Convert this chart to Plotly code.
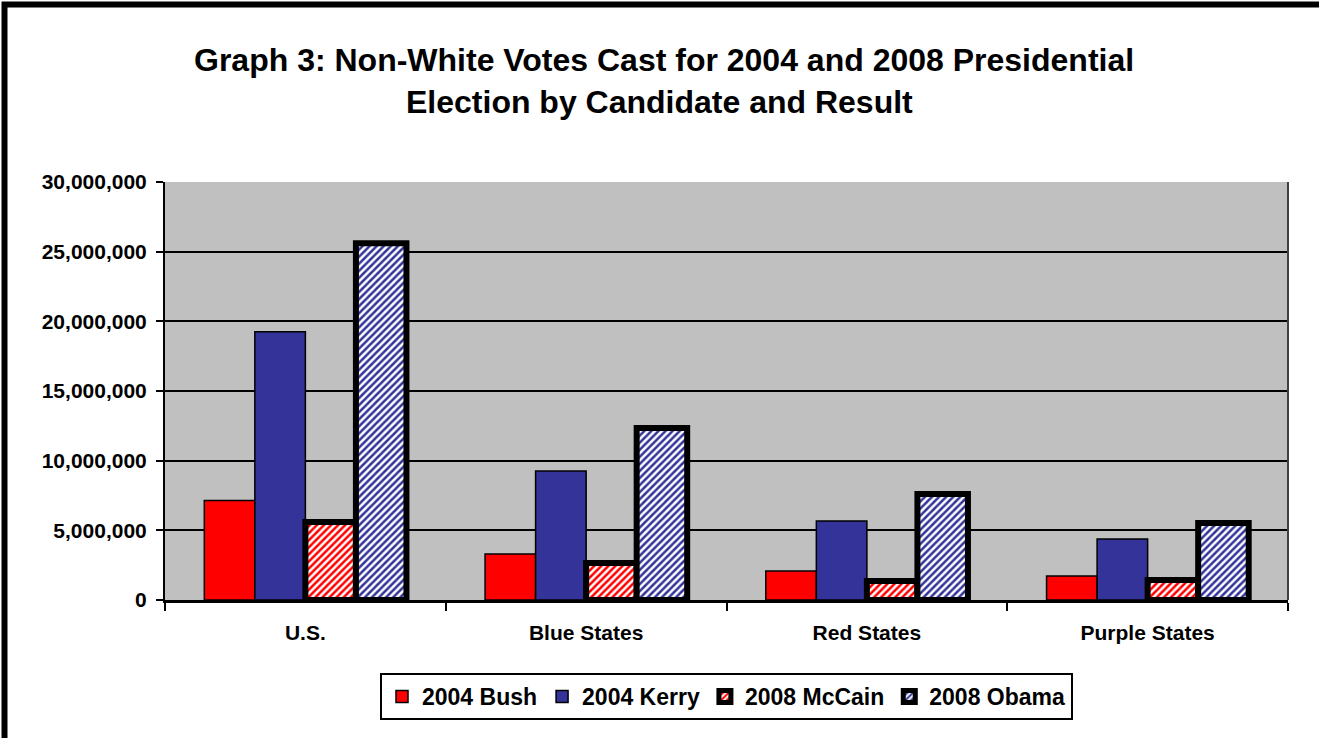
import plotly.graph_objects as go

categories = ["U.S.", "Blue States", "Red States", "Purple States"]
bush_2004 = [7150000, 3300000, 2080000, 1720000]
kerry_2004 = [19250000, 9250000, 5670000, 4380000]
mccain_2008 = [5600000, 2650000, 1370000, 1430000]
obama_2008 = [25600000, 12350000, 7600000, 5530000]

FONT = "Arial, Liberation Sans, sans-serif"
RED = "#FF0000"
BLUE = "#333399"

fig = go.Figure()
fig.add_bar(name="2004 Bush", x=categories, y=bush_2004,
            marker=dict(color=RED, line=dict(color="black", width=1.5)))
fig.add_bar(name="2004 Kerry", x=categories, y=kerry_2004,
            marker=dict(color=BLUE, line=dict(color="black", width=1.5)))
fig.add_bar(name="2008 McCain", x=categories, y=mccain_2008,
            marker=dict(color="white", line=dict(color="black", width=6),
                        pattern=dict(shape="/", fgcolor=RED, bgcolor="white",
                                     size=5, solidity=0.5, fillmode="replace")))
fig.add_bar(name="2008 Obama", x=categories, y=obama_2008,
            marker=dict(color="white", line=dict(color="black", width=6),
                        pattern=dict(shape="/", fgcolor=BLUE, bgcolor="white",
                                     size=5, solidity=0.5, fillmode="replace")))

L, R, T, B = 165, 31, 182, 138
W, H = 1319, 738
pw, ph = W - L - R, H - T - B

def px_x(x):
    return (x - L) / pw

def px_y(y):
    return (H - B - y) / ph

fig.update_layout(
    width=W, height=H,
    margin=dict(l=L, r=R, t=T, b=B, pad=0),
    paper_bgcolor="white",
    plot_bgcolor="#C0C0C0",
    barmode="group",
    bargap=0.28,
    bargroupgap=0,
    font=dict(family=FONT, color="black"),
    showlegend=True,
    legend=dict(orientation="h", x=0.5, xanchor="center",
                y=px_y(673), yanchor="top",
                font=dict(family=FONT, size=23, weight="bold", color="black"),
                bordercolor="black", borderwidth=2, bgcolor="white",
                itemwidth=30, traceorder="normal"),
    xaxis=dict(showgrid=False, showline=True, linecolor="black", linewidth=3,
               ticks="outside", tickson="boundaries", ticklen=8, tickwidth=2,
               tickcolor="black", ticklabelstandoff=12,
               tickfont=dict(family=FONT, size=21, weight="bold", color="black")),
    yaxis=dict(range=[0, 30000000], dtick=5000000, tickformat=",d",
               showgrid=True, gridcolor="black", gridwidth=2, zeroline=False,
               showline=True, linecolor="black", linewidth=2,
               ticks="outside", ticklen=7, tickwidth=2, tickcolor="black",
               ticklabelstandoff=5,
               tickfont=dict(family=FONT, size=21, weight="bold", color="black")),
    annotations=[
        dict(text="Graph 3: Non-White Votes Cast for 2004 and 2008 Presidential",
             xref="paper", yref="paper", x=px_x(664), y=px_y(60),
             xanchor="center", yanchor="middle", showarrow=False,
             font=dict(family=FONT, size=32, weight="bold", color="black")),
        dict(text="Election by Candidate and Result",
             xref="paper", yref="paper", x=px_x(659), y=px_y(102),
             xanchor="center", yanchor="middle", showarrow=False,
             font=dict(family=FONT, size=32, weight="bold", color="black")),
    ],
    shapes=[
        dict(type="rect", xref="paper", yref="paper",
             x0=px_x(4.5), x1=px_x(1400), y0=px_y(4.5), y1=px_y(800),
             line=dict(color="black", width=6), fillcolor="rgba(0,0,0,0)"),
        dict(type="line", xref="paper", yref="paper",
             x0=1, x1=1, y0=0, y1=1, line=dict(color="#404040", width=2)),
    ],
)

fig.write_html("out.html")
